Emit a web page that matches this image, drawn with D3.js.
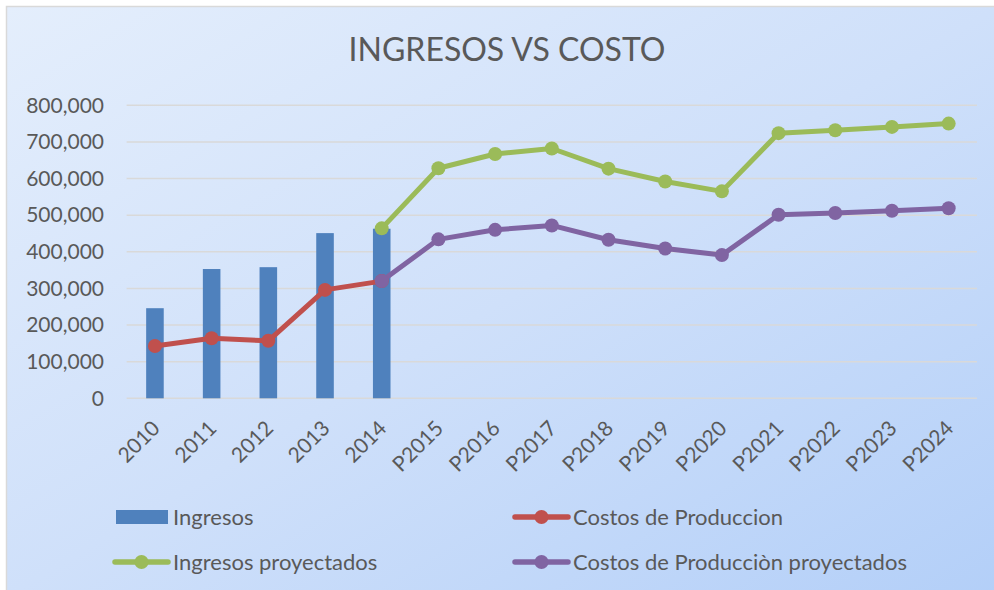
<!DOCTYPE html>
<html lang="es">
<head>
  <meta charset="UTF-8">
  <title>Ingresos vs Costo</title>
  <script src="https://d3js.org/d3.v7.min.js"></script>
  <style>
    body { margin: 0; background: #fff; }
    text { font-family: Lato, "Open Sans", sans-serif; fill: #595959; }
  </style>
</head>
<body>
<div id="chart"></div>
<script>

// data
const categories = ["2010", "2011", "2012", "2013", "2014", "P2015", "P2016", "P2017",
                    "P2018", "P2019", "P2020", "P2021", "P2022", "P2023", "P2024"];
const ingresos = [246000, 353000, 358000, 451000, 463000, null, null, null,
                  null, null, null, null, null, null, null];
const costos = [143000, 164000, 157000, 296000, 320000, null, null, null,
                null, null, null, null, null, null, null];
const ingresosProy = [null, null, null, null, 464000, 628000, 667000, 682000,
                      627000, 592000, 565000, 724000, 732000, 741000, 750000];
const costosProy = [null, null, null, null, 320000, 434000, 460000, 472000,
                    433000, 409000, 391000, 501000, 506000, 512000, 519000];
const yTicks = [0, 100000, 200000, 300000, 400000, 500000, 600000, 700000, 800000];

const width = 994, height = 590;
const plot = {left: 126.6, right: 977, top: 105.3, bottom: 398.3};

const svg = d3.select("#chart").append("svg")
    .attr("width", width)
    .attr("height", height);

// background gradient of the chart area
const grad = svg.append("defs").append("linearGradient")
    .attr("id", "bg")
    .attr("x1", "0%").attr("y1", "0%")
    .attr("x2", "100%").attr("y2", "100%");
grad.append("stop").attr("offset", "0%").attr("stop-color", "#e4eefc");
grad.append("stop").attr("offset", "50%").attr("stop-color", "#cfe0fa");
grad.append("stop").attr("offset", "100%").attr("stop-color", "#b3cff8");

svg.append("rect")
    .attr("x", 6.5).attr("y", 6.5)
    .attr("width", width).attr("height", height)
    .attr("fill", "url(#bg)")
    .attr("stroke", "#d9d9d9")
    .attr("stroke-width", 1.5);

svg.append("text")
    .attr("x", 507)
    .attr("y", 61)
    .attr("text-anchor", "middle")
    .style("font-size", "32px")
    .text("INGRESOS VS COSTO");

// scales
const x = d3.scaleBand()
    .domain(categories)
    .range([plot.left, plot.right]);
const cx = d => x(d) + x.bandwidth() / 2;
const barW = x.bandwidth() * 0.31;

const y = d3.scaleLinear()
    .domain([0, 800000])
    .range([plot.bottom, plot.top]);

// gridlines
svg.append("g")
    .selectAll("line")
    .data(yTicks)
    .join("line")
      .attr("x1", plot.left)
      .attr("x2", plot.right)
      .attr("y1", d => y(d))
      .attr("y2", d => y(d))
      .attr("stroke", "#d9d9d9")
      .attr("stroke-width", 1.5);

// y axis labels
const yAxis = svg.append("g")
    .attr("transform", "translate(104,0)")
    .call(d3.axisLeft(y).tickValues(yTicks).tickSize(0).tickPadding(0)
            .tickFormat(d3.format(",")));
yAxis.select(".domain").remove();
yAxis.selectAll("text")
    .style("font-size", "21px")
    .style("font-family", "Lato, 'Open Sans', sans-serif")
    .attr("fill", "#595959");

// x axis labels
const xAxis = svg.append("g")
    .attr("transform", "translate(0," + plot.bottom + ")")
    .call(d3.axisBottom(x).tickSize(0).tickPadding(0));
xAxis.select(".domain").remove();
xAxis.selectAll("text")
    .style("font-size", "21px")
    .style("font-family", "Lato, 'Open Sans', sans-serif")
    .attr("fill", "#595959")
    .attr("text-anchor", "end")
    .attr("y", 0)
    .attr("dy", "0.35em")
    .attr("transform", "translate(1,26) rotate(-45)");

// bars
svg.append("g")
    .selectAll("rect")
    .data(categories.map((c, i) => ({c: c, v: ingresos[i]})).filter(d => d.v != null))
    .join("rect")
      .attr("x", d => cx(d.c) - barW / 2)
      .attr("y", d => y(d.v))
      .attr("width", barW)
      .attr("height", d => y(0) - y(d.v))
      .attr("fill", "#4f81bd");

// line series
function drawSeries(values, color) {
  const pts = categories.map((c, i) => ({c: c, v: values[i]})).filter(d => d.v != null);
  const line = d3.line().x(d => cx(d.c)).y(d => y(d.v));
  svg.append("path")
      .datum(pts)
      .attr("d", line)
      .attr("fill", "none")
      .attr("stroke", color)
      .attr("stroke-width", 5)
      .attr("stroke-linejoin", "round");
  svg.append("g")
      .selectAll("circle")
      .data(pts)
      .join("circle")
        .attr("cx", d => cx(d.c))
        .attr("cy", d => y(d.v))
        .attr("r", 7)
        .attr("fill", color);
}
drawSeries(costos, "#c0504d");
drawSeries(ingresosProy, "#9bbb59");
drawSeries(costosProy, "#8064a2");

// legend
const legendItems = [
  {name: "Ingresos", color: "#4f81bd", type: "bar", x: 113, y: 517},
  {name: "Costos de Produccion", color: "#c0504d", type: "line", x: 513, y: 517},
  {name: "Ingresos proyectados", color: "#9bbb59", type: "line", x: 113, y: 562},
  {name: "Costos de Producciòn proyectados", color: "#8064a2", type: "line", x: 513, y: 562}
];
const legend = svg.append("g")
    .selectAll("g")
    .data(legendItems)
    .join("g")
      .attr("transform", d => "translate(" + d.x + "," + d.y + ")");
legend.filter(d => d.type === "bar").append("rect")
    .attr("x", 3).attr("y", -7)
    .attr("width", 52).attr("height", 14)
    .attr("fill", d => d.color);
legend.filter(d => d.type === "line").append("line")
    .attr("x1", 2).attr("x2", 55)
    .attr("stroke", d => d.color)
    .attr("stroke-width", 5.5)
    .attr("stroke-linecap", "round");
legend.filter(d => d.type === "line").append("circle")
    .attr("cx", 28.5).attr("r", 7)
    .attr("fill", d => d.color);
legend.append("text")
    .attr("x", 60)
    .attr("dy", "0.35em")
    .style("font-size", "22px")
    .text(d => d.name);

</script>
</body>
</html>
